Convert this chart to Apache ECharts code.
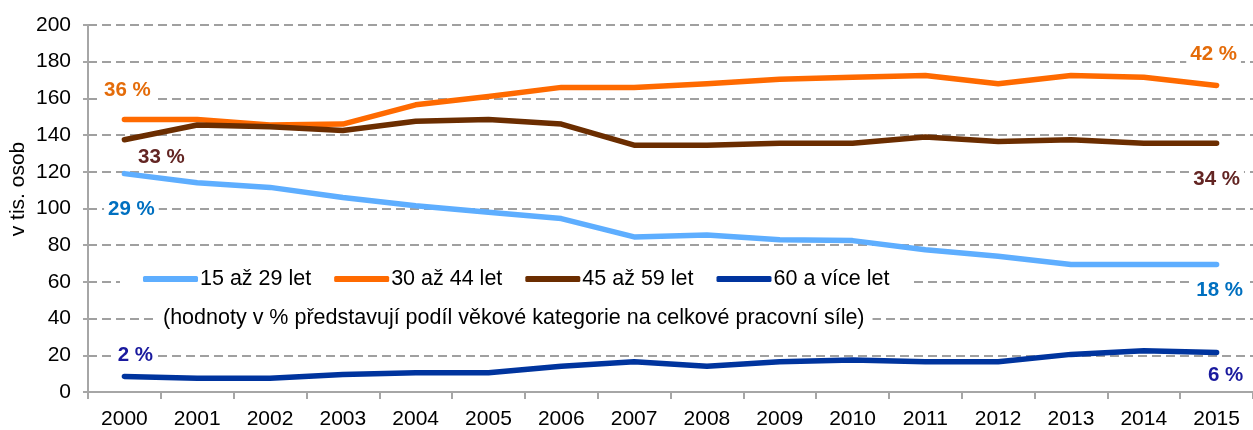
<!DOCTYPE html>
<html>
<head>
<meta charset="utf-8">
<script src="https://cdn.jsdelivr.net/npm/echarts@6/dist/echarts.min.js"></script>
<style>
html,body{margin:0;padding:0;background:#fff;}
#c{width:1253px;height:430px;}
</style>
</head>
<body>
<div id="c"></div>
<script>
var years = ['2000','2001','2002','2003','2004','2005','2006','2007','2008','2009','2010','2011','2012','2013','2014','2015'];
var seriesNames = ['15 až 29 let','30 až 44 let','45 až 59 let','60 a více let'];
var v15_29 = [119, 114, 111.5, 106, 101.5, 98, 94.5, 84.5, 85.5, 83, 82.5, 77.5, 74, 69.5, 69.5, 69.5];
var v30_44 = [148.5, 148.5, 145.5, 146, 156.5, 161, 166, 166, 168, 170.5, 171.5, 172.5, 168, 172.5, 171.5, 167];
var v45_59 = [137.5, 145.5, 144.5, 142.5, 147.5, 148.5, 146, 134.5, 134.5, 135.5, 135.5, 139, 136.5, 137.5, 135.5, 135.5];
var v60 = [8.5, 7.5, 7.5, 9.5, 10.5, 10.5, 14, 16.5, 14, 16.5, 17.5, 16.5, 16.5, 20.5, 22.5, 21.5];
var pctStart = ['29 %','36 %','33 %','2 %'];
var pctEnd = ['18 %','42 %','34 %','6 %'];
var yTicks = [0,20,40,60,80,100,120,140,160,180,200];
var yName = 'v tis. osob';
var note = '(hodnoty v % představují podíl věkové kategorie na celkové pracovní síle)';

var FONT = 'Liberation Sans, Arial, sans-serif';
var lineColors = ['#5EAEFF','#FF6A00','#6B2D00','#00349E'];
var labelColors = ['#0070C0','#E46C0A','#632523','#1A1A9E'];
var startOffsets = [[7,36],[3,-29],[37,18],[11,-21]];
var endOffsets = [[3,26],[-3,-31],[0,36],[9,23]];
var allValues = [v15_29, v30_44, v45_59, v60];

function buildData(vals, i){
  return vals.map(function(v, k){
    var item = {value: v};
    if (k === 0 || k === vals.length - 1) {
      item.label = {
        show: true,
        position: 'inside',
        formatter: k === 0 ? pctStart[i] : pctEnd[i],
        offset: k === 0 ? startOffsets[i] : endOffsets[i],
        color: labelColors[i],
        fontSize: 20.5,
        fontWeight: 'bold',
        fontFamily: FONT,
        backgroundColor: '#fff',
        padding: [2,4]
      };
    }
    return item;
  });
}

var series = allValues.map(function(vals, i){
  return {
    name: seriesNames[i],
    type: 'line',
    data: buildData(vals, i),
    symbol: 'circle',
    symbolSize: 0,
    showSymbol: true,
    silent: true,
    animation: false,
    lineStyle: {color: lineColors[i], width: 5.5, cap: 'round', join: 'round'},
    itemStyle: {color: lineColors[i]},
    z: 3 + i
  };
});

var chart = echarts.init(document.getElementById('c'), null, {renderer: 'canvas'});
chart.setOption({
  animation: false,
  backgroundColor: '#fff',
  textStyle: {fontFamily: FONT},
  grid: {left: 88, top: 25, width: 1173.5, height: 367, containLabel: false},
  title: {
    text: note,
    left: 153,
    top: 304,
    padding: [3, 8, 3, 10],
    backgroundColor: '#fff',
    textStyle: {fontSize: 21.5, fontWeight: 'normal', color: '#000', fontFamily: FONT},
    z: 10
  },
  legend: {
    data: seriesNames,
    left: 120,
    top: 264,
    padding: [4, 20, 4, 23],
    backgroundColor: '#fff',
    icon: 'roundRect',
    itemWidth: 55,
    itemHeight: 6,
    itemGap: 23,
    textStyle: {fontSize: 21.5, color: '#000', padding: [0,0,0,-3]},
    z: 10
  },
  xAxis: {
    type: 'category',
    data: years,
    boundaryGap: true,
    axisLine: {lineStyle: {color: '#A6A6A6', width: 2}},
    axisTick: {show: true, length: 7, lineStyle: {color: '#A6A6A6', width: 2}},
    axisLabel: {fontSize: 21, color: '#000', margin: 17}
  },
  yAxis: {
    type: 'value',
    min: yTicks[0],
    max: yTicks[yTicks.length - 1],
    interval: 20,
    axisLine: {show: true, lineStyle: {color: '#A6A6A6', width: 2}},
    axisTick: {show: true, length: 5, lineStyle: {color: '#A6A6A6', width: 2}},
    axisLabel: {fontSize: 21, color: '#000', margin: 17},
    splitLine: {show: true, lineStyle: {color: '#A0A0A0', width: 2, type: [9, 5]}}
  },
  graphic: [{
    type: 'text',
    x: 18,
    y: 189,
    rotation: Math.PI / 2,
    style: {
      text: yName,
      fontSize: 21,
      fill: '#000',
      align: 'center',
      verticalAlign: 'middle',
      fontFamily: FONT
    }
  }],
  series: series
});
</script>
</body>
</html>
